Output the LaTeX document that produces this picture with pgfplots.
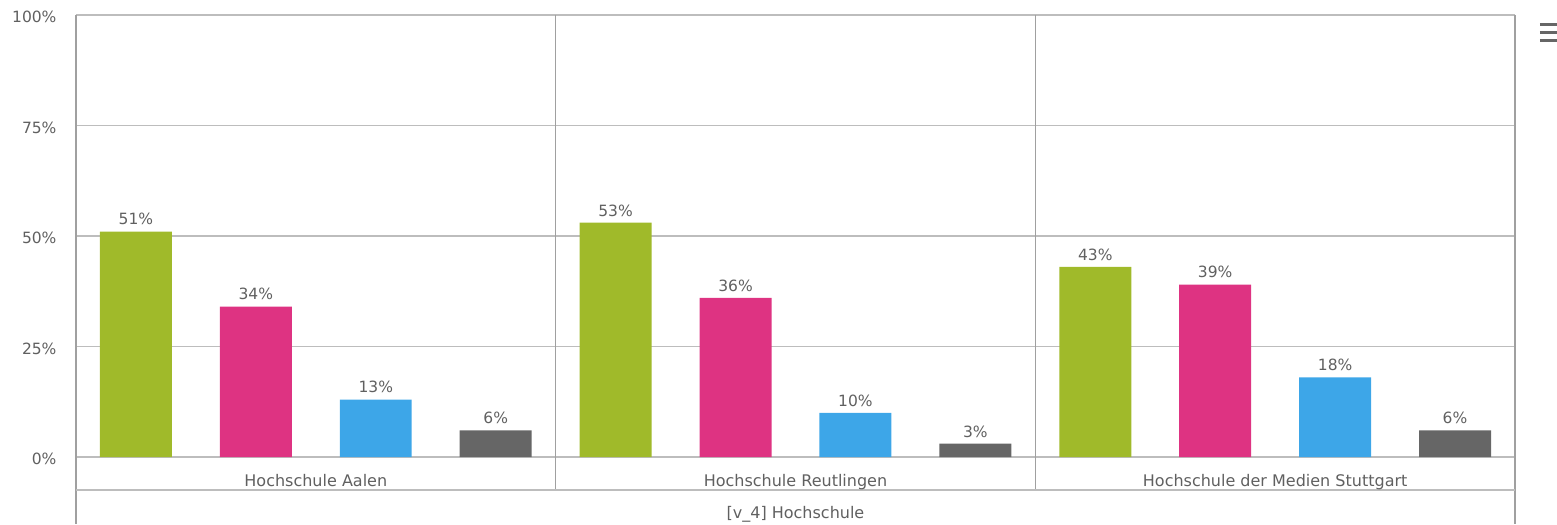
\documentclass[border=0pt]{standalone}
\usepackage{pgfplots}
\pgfplotsset{compat=1.18}
\usepackage{fontspec}
\setmainfont{DejaVu Sans}
\definecolor{cgreen}{HTML}{A0BA2A}
\definecolor{cpink}{HTML}{DE3382}
\definecolor{cblue}{HTML}{3DA6E8}
\definecolor{cgray}{HTML}{666666}
\definecolor{ctext}{HTML}{606060}
\definecolor{cgrid}{HTML}{BDBDBD}
\definecolor{cline}{HTML}{A0A0A0}
\begin{document}
\begin{tikzpicture}
\begin{axis}[
  width=1439bp, height=442bp, scale only axis,
  xmin=-0.5, xmax=2.5, ymin=0, ymax=100,
  axis line style={draw=none},
  xtick=\empty,
  ytick={0,25,50,75,100},
  ymajorgrids, grid style={color=cgrid, line width=1.2bp},
  major tick length=0pt,
  /pgf/number format/assume math mode=true,
  yticklabel={\pgfmathprintnumber{\tick}\%},
  yticklabel style={font=\fontsize{15.5bp}{17bp}\selectfont, text=ctext, xshift=-16bp, yshift=-2bp},
  clip=false,
  bar width=0.15,
  nodes near coords={\pgfmathprintnumber{\pgfplotspointmeta}\%},
  every node near coord/.append style={font=\fontsize{15.5bp}{17bp}\selectfont, text=ctext, yshift=3bp},
]
\addplot[ybar, bar shift=0, fill=cgreen, draw=none] coordinates {(-0.375,51) (0.625,53) (1.625,43)};
\addplot[ybar, bar shift=0, fill=cpink, draw=none] coordinates {(-0.125,34) (0.875,36) (1.875,39)};
\addplot[ybar, bar shift=0, fill=cblue, draw=none] coordinates {(0.125,13) (1.125,10) (2.125,18)};
\addplot[ybar, bar shift=0, fill=cgray, draw=none] coordinates {(0.375,6) (1.375,3) (2.375,6)};
\draw[cline, line width=1.2bp] (axis cs:-0.5,100) -- (axis cs:-0.5,-15.2);
\draw[cline, line width=1.2bp] (axis cs:2.5,100) -- (axis cs:2.5,-15.2);
\draw[cline, line width=1.2bp] (axis cs:0.5,100) -- (axis cs:0.5,-7.47);
\draw[cline, line width=1.2bp] (axis cs:1.5,100) -- (axis cs:1.5,-7.47);
\draw[cgrid, line width=1.2bp] (axis cs:-0.5,-7.47) -- (axis cs:2.5,-7.47);
\node[anchor=base, font=\fontsize{16bp}{18bp}\selectfont, text=ctext] at (axis cs:0,-6.56) {Hochschule Aalen};
\node[anchor=base, font=\fontsize{16bp}{18bp}\selectfont, text=ctext] at (axis cs:1,-6.56) {Hochschule Reutlingen};
\node[anchor=base, font=\fontsize{16bp}{18bp}\selectfont, text=ctext] at (axis cs:2,-6.56) {Hochschule der Medien Stuttgart};
\node[anchor=base, font=\fontsize{16bp}{18bp}\selectfont, text=ctext] at (axis cs:1,-13.8) {[v\_4] Hochschule};
\draw[cgray, line width=3bp] (axis cs:2.552,97.8) -- (axis cs:2.5876,97.8);
\draw[cgray, line width=3bp] (axis cs:2.552,96.0) -- (axis cs:2.5876,96.0);
\draw[cgray, line width=3bp] (axis cs:2.552,94.2) -- (axis cs:2.5876,94.2);
\coordinate (BL) at (axis cs:-0.6584,-15.158);
\coordinate (TR) at (axis cs:2.5876,103.394);
\end{axis}
\pgfresetboundingbox
\path[use as bounding box] (BL) rectangle (TR);
\end{tikzpicture}
\end{document}
